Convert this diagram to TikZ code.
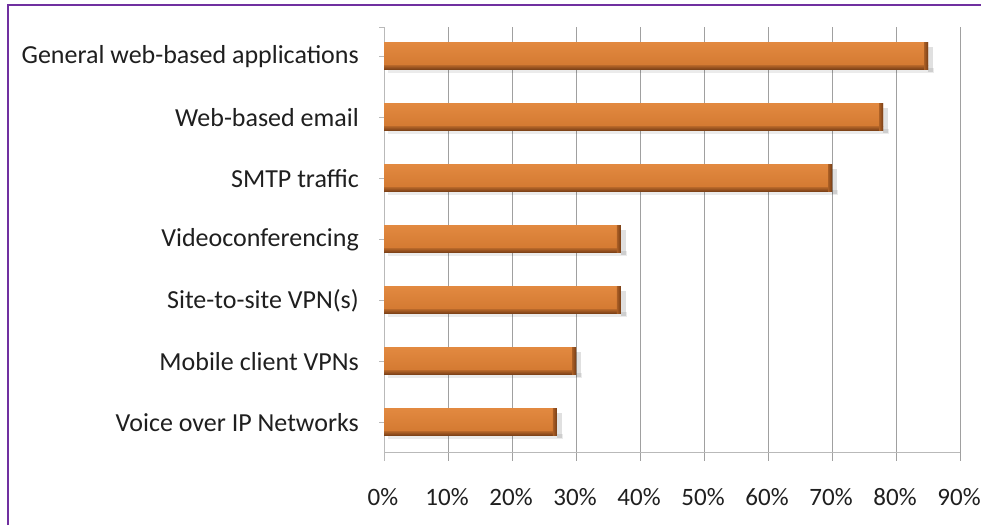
\documentclass[tikz,border=0pt]{standalone}
\usepackage{fontspec}
\setmainfont{Carlito}
\definecolor{frame}{RGB}{112,48,160}
\definecolor{grid}{RGB}{160,160,160}
\definecolor{axisc}{RGB}{185,185,185}
\definecolor{barlight}{RGB}{226,137,64}
\definecolor{barmid}{RGB}{212,122,50}
\definecolor{bardark}{RGB}{120,62,22}
\tikzset{
  gridline/.style={draw=grid, line width=0.9pt},
  axisline/.style={draw=axisc, line width=1pt},
  catlabel/.style={anchor=east, inner sep=0pt, font=\fontsize{26}{31}\selectfont, text=black!88},
  pctlabel/.style={anchor=center, inner sep=0pt, font=\fontsize{25}{30}\selectfont, text=black!88},
}
\begin{document}
\begin{tikzpicture}[x=1pt, y=-1pt]
\useasboundingbox (0,0) rectangle (981,525);
\fill[white] (0,0) rectangle (981,525);
% frame (top and left only)
\draw[frame, line width=2.2pt] (8,525) -- (8,5) -- (981,5);
% vertical gridlines
\foreach \k in {1,...,9} {
  \draw[gridline] (384+64*\k,27) -- (384+64*\k,461);
}
% axes
\draw[axisline] (384,27) -- (384,461);
\draw[axisline] (379,27) -- (384,27);
\draw[axisline] (384,452) -- (960,452);
% x tick labels
\foreach \k in {0,...,9} {
  \pgfmathtruncatemacro{\pc}{10*\k}
  \node[pctlabel] (p\k) at (383+64*\k,497) {\pc\%};
}
% bars
\foreach \i/\v/\lab in {0/85/General web-based applications,1/78/Web-based email,2/70/SMTP traffic,3/37/Videoconferencing,4/37/Site-to-site VPN(s),5/30/Mobile client VPNs,6/27/Voice over IP Networks} {
  \pgfmathsetmacro{\c}{56+61*\i}
  \pgfmathsetmacro{\xe}{384+6.4*\v}
  \draw[axisline] (379,\c) -- (384,\c);
  % soft shadow
  \fill[black, opacity=0.08] (388,\c+12) rectangle (\xe+6,\c+17);
  \fill[black, opacity=0.12] (\xe,\c-9) rectangle (\xe+5,\c+16);
  % main body
  \shade[top color=barlight, bottom color=barmid] (384,\c-13.5) rectangle (\xe,\c+9);
  \shade[top color=barmid!70!bardark, bottom color=bardark] (384,\c+9) rectangle (\xe,\c+13.5);
  \shade[left color=barmid!55!bardark, right color=bardark] (\xe-4,\c-13.5) rectangle (\xe,\c+13.5);
  \node[catlabel] (l\i) at (359,\c+1) {\lab};
}
\end{tikzpicture}
\end{document}
